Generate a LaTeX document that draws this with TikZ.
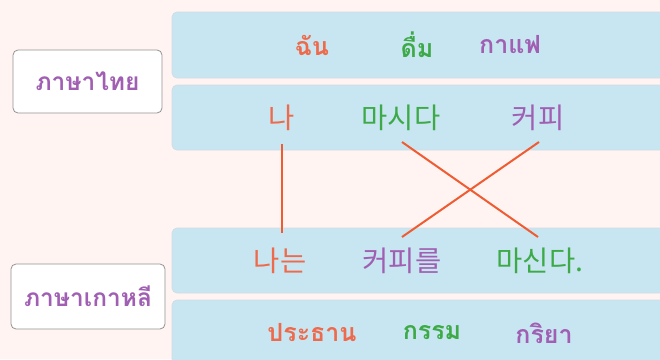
\documentclass[tikz,border=0pt]{standalone}
\usepackage{fontspec}
\newfontfamily\thai[Script=Thai]{Loma}
\newfontfamily\kor{Noto Sans CJK KR}
\definecolor{bgc}{HTML}{FFF4F2}
\definecolor{boxc}{HTML}{C8E6F1}
\definecolor{boxb}{HTML}{D2DDE3}
\definecolor{oc}{HTML}{EE6A4C}
\definecolor{gc}{HTML}{3DAA47}
\definecolor{pc}{HTML}{A05FB2}
\definecolor{lc}{HTML}{F05C32}
\tikzset{
  band/.style={fill=boxc, draw=boxb, line width=0.8pt, rounded corners=5pt},
  lab/.style={fill=white, draw=gray!85, line width=0.8pt, rounded corners=5pt, minimum width=149pt, minimum height=63pt, inner sep=0pt, font=\thai\bfseries\fontsize{24.5}{30}\selectfont, text=pc},
  thw/.style={font=\thai\bfseries\fontsize{25}{30}\selectfont, inner sep=0pt},
  kow/.style={font=\kor\fontsize{28.5}{32}\selectfont, inner sep=0pt},
  link/.style={draw=lc, line width=2pt}
}
\begin{document}
\begin{tikzpicture}[x=1pt,y=-1pt]
\useasboundingbox (0,0) rectangle (660,359);
\fill[bgc] (0,0) rectangle (660,359);
\begin{scope}
\clip (0,0) rectangle (660,359);
\draw[band] (172,12) rectangle (680,78);
\draw[band] (172,85) rectangle (680,150);
\draw[band] (172,228) rectangle (680,293);
\draw[band] (172,300) rectangle (680,380);
\end{scope}
\node[lab] (th) at (87.5,81.5) {ภาษาไทย};
\node[lab, minimum width=154pt, minimum height=65pt] (ko) at (88,296.5) {ภาษาเกาหลี};
% row 1
\node[thw, text=oc] (t1) at (312,45) {ฉัน};
\node[thw, text=gc] (t2) at (417,45) {ดื่ม};
\node[thw, text=pc] (t3) at (510,45) {กาแฟ};
% row 2
\node[kow, text=oc] (k1) at (282,118) {나};
\node[kow, text=gc] (k2) at (401,118) {마시다};
\node[kow, text=pc] (k3) at (538,118) {커피};
% row 3
\node[kow, text=oc] (k4) at (280,261) {나는};
\node[kow, text=pc] (k5) at (402,261) {커피를};
\node[kow, text=gc] (k6) at (540,261) {마신다.};
% row 4
\node[thw, text=oc] (s1) at (312,333) {ประธาน};
\node[thw, text=gc] (s2) at (432,333) {กรรม};
\node[thw, text=pc] (s3) at (544,333) {กริยา};
% links
\coordinate (a1) at (282,144);
\coordinate (a2) at (282,233);
\coordinate (b1) at (402,142);
\coordinate (b2) at (538,237);
\coordinate (c1) at (539,142);
\coordinate (c2) at (402,237);
\draw[link] (a1) -- (a2);
\draw[link] (b1) -- (b2);
\draw[link] (c1) -- (c2);
\end{tikzpicture}
\end{document}
